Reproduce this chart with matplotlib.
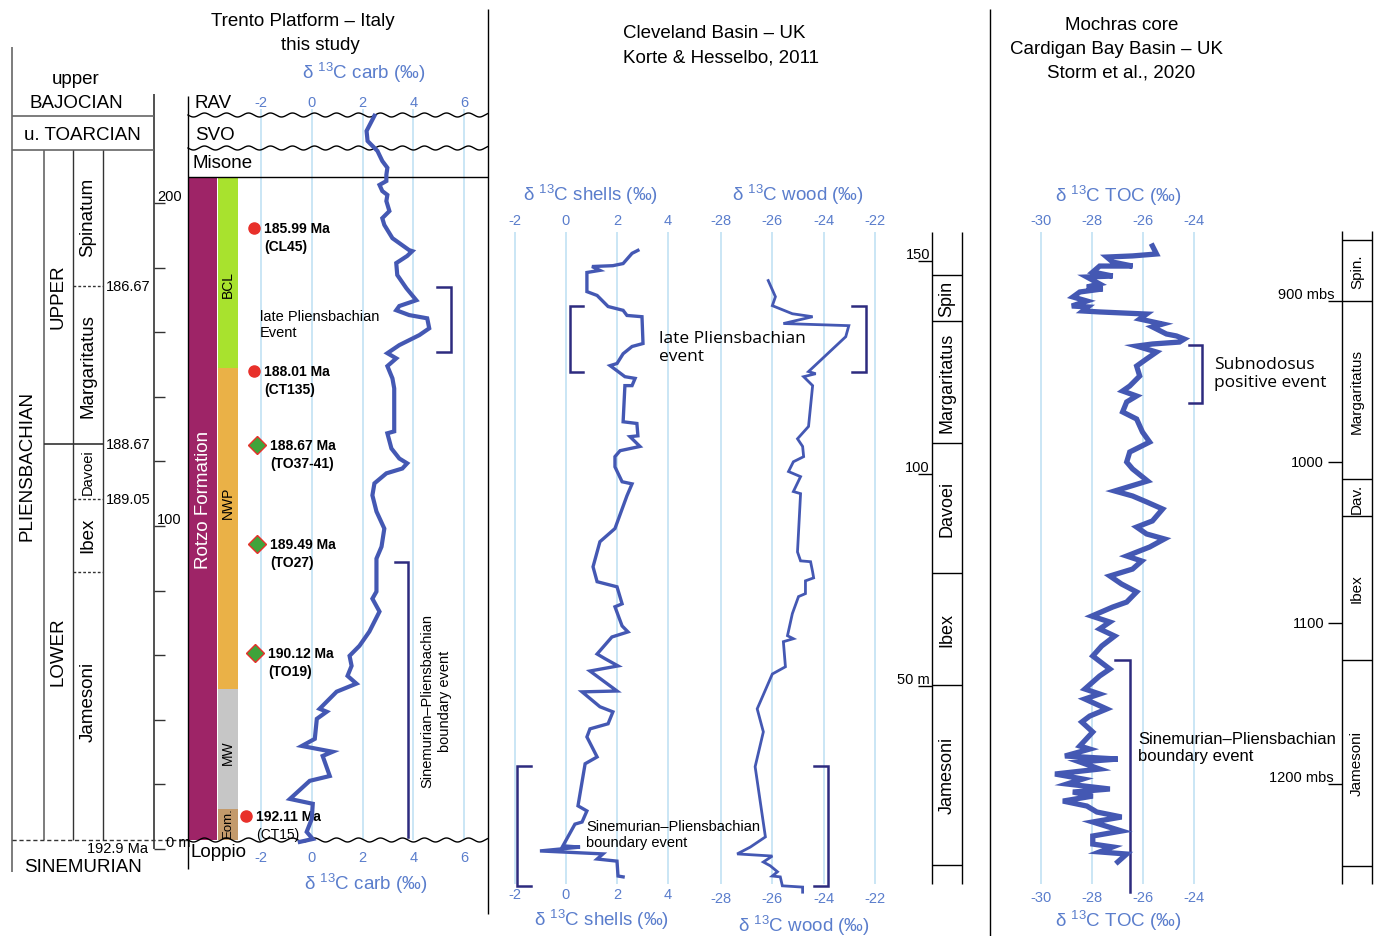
import numpy as np
import matplotlib.pyplot as plt
import matplotlib.transforms as mtransforms
from matplotlib.patches import Rectangle

plt.rcParams['font.family'] = ['Liberation Sans', 'DejaVu Sans']
plt.rcParams['mathtext.default'] = 'regular'

# ---- data ----
# Trento Platform, d13C carb (permil) vs thickness (m)
carb_d13c = [2.47, 2.16, 2.20, 2.59, 2.78, 2.98, 2.94, 2.94, 2.67, 2.78, 2.98, 2.94,
             3.06, 2.78, 2.86, 3.18, 3.84, 3.96, 3.76, 3.33, 3.37, 3.73, 4.12, 3.45,
             3.33, 3.84, 4.55, 4.63, 4.24, 3.45, 2.98, 3.33, 2.98, 3.18, 3.25, 3.25,
             2.98, 3.14, 3.45, 3.76, 3.57, 2.94, 2.47, 2.39, 2.55, 2.86, 2.75, 2.55,
             2.55, 2.39, 2.67, 2.27, 1.88, 1.49, 1.57, 1.41, 1.76, 0.98, 0.31, 0.59,
             0.20, 0.12, -0.39, 0.82, 0.43, 0.71, -0.08, -0.86, 0.04, 0.00, -0.20,
             0.04, -0.47]
carb_m = [227.0, 222.3, 219.2, 216.1, 213.0, 210.9, 208.7, 206.8, 205.6, 203.7, 202.5,
          200.6, 197.5, 195.3, 193.2, 189.1, 185.4, 185.1, 183.6, 181.4, 177.7, 173.6,
          169.9, 168.1, 166.8, 165.3, 164.3, 161.2, 159.1, 156.0, 153.5, 151.9, 149.5,
          145.7, 142.6, 129.3, 128.7, 124.0, 120.9, 119.4, 117.8, 116.3, 113.2, 109.5,
          104.5, 99.2, 93.6, 89.9, 79.7, 77.5, 73.5, 67.3, 62.9, 59.8, 56.7, 53.6, 51.2,
          48.7, 43.4, 42.5, 40.3, 34.1, 31.9, 30.1, 28.8, 22.6, 21.1, 15.5, 14.0, 9.3,
          5.3, 3.1, 2.2]

# Cleveland Basin, shells and wood (Korte & Hesselbo 2011)
shell_d13c = [2.82, 2.59, 2.24, 1.84, 1.02, 1.33, 0.82, 0.82, 1.22, 1.65, 2.24, 2.39,
              2.98, 3.02, 2.59, 2.24, 2.00, 1.73, 2.00, 2.31, 2.71, 2.59, 2.31, 2.24,
              2.78, 2.82, 2.51, 2.90, 2.12, 1.92, 1.92, 2.20, 2.59, 2.39, 1.92, 1.33,
              1.06, 1.22, 2.00, 2.20, 1.92, 2.20, 2.43, 1.80, 1.22, 1.53, 2.04, 0.94,
              2.00, 0.63, 1.33, 1.84, 1.65, 0.94, 0.82, 1.22, 0.75, 0.47, 0.82, 0.63,
              0.35, -0.12, 0.55, -1.02, 1.45, 1.22, 2.00, 2.04, 2.24]
shell_m = [152.5, 151.8, 149.4, 148.9, 148.7, 147.8, 147.3, 142.8, 141.9, 139.3, 138.4,
           137.2, 136.9, 130.6, 129.9, 128.2, 125.9, 125.4, 124.2, 122.8, 122.4, 120.7,
           120.7, 112.2, 111.8, 108.9, 108.7, 106.4, 105.4, 104.0, 101.6, 98.1, 97.6,
           94.8, 87.1, 84.0, 78.1, 74.6, 73.4, 69.4, 68.7, 64.2, 62.8, 61.6, 57.6, 56.5,
           54.8, 53.6, 48.9, 48.7, 45.2, 44.0, 41.2, 40.0, 38.1, 33.4, 31.8, 21.9, 20.7,
           18.1, 17.6, 12.5, 12.2, 11.3, 10.6, 9.4, 8.9, 5.4, 5.2]
wood_d13c = [-26.16, -25.88, -26.00, -25.22, -24.43, -25.57, -23.02, -23.14, -24.59,
             -24.31, -24.78, -24.43, -24.59, -25.02, -24.82, -24.78, -25.18, -25.37,
             -24.90, -25.18, -24.90, -25.02, -24.90, -24.51, -24.43, -24.39, -24.71,
             -24.71, -24.98, -25.22, -25.41, -25.18, -25.57, -25.49, -26.00, -26.59,
             -26.35, -26.67, -26.27, -26.86, -27.37, -26.00, -26.35, -26.08, -25.80,
             -26.00, -25.69, -25.61, -24.82, -24.82]
wood_m = [145.4, 141.6, 139.5, 137.6, 136.9, 135.3, 134.8, 132.2, 124.0, 123.5, 122.8,
          120.7, 111.1, 108.2, 106.4, 104.0, 102.8, 100.5, 99.3, 95.8, 95.3, 81.6, 79.5,
          79.3, 76.9, 75.5, 74.8, 71.8, 71.1, 67.1, 61.9, 61.2, 60.5, 54.6, 52.9, 44.7,
          39.3, 31.1, 14.6, 12.2, 10.6, 10.1, 8.7, 7.8, 6.4, 5.4, 5.2, 3.1, 2.8, 1.6]

# Mochras core, d13C TOC vs metres below surface (Storm et al. 2020)
toc_d13c = [-25.63, -25.47, -26.41, -27.42, -27.19, -26.41, -27.70, -27.97, -27.19,
            -28.20, -27.70, -28.20, -27.58, -28.48, -28.75, -28.20, -28.79, -28.16,
            -28.36, -27.70, -25.86, -26.13, -25.23, -25.63, -25.08, -24.69, -24.38,
            -24.57, -25.63, -26.25, -25.47, -25.86, -26.25, -26.13, -26.52, -26.80,
            -26.25, -26.64, -26.80, -26.25, -26.02, -25.74, -26.13, -26.52, -26.64,
            -26.41, -25.82, -27.11, -26.41, -25.86, -25.23, -25.63, -26.25, -25.86,
            -25.16, -25.74, -26.64, -26.05, -26.41, -27.30, -26.84, -26.25, -26.64,
            -27.19, -28.01, -27.30, -27.70, -27.11, -27.62, -27.97, -27.30, -27.70,
            -28.28, -27.70, -28.28, -27.42, -28.09, -28.40, -27.97, -28.48, -28.09,
            -29.06, -26.99, -28.48, -27.70, -29.45, -28.36, -28.98, -27.30, -28.75,
            -27.97, -29.14, -28.20, -27.81, -26.84, -27.97, -26.84, -27.97, -27.97,
            -27.19, -27.70, -26.64, -26.99]
toc_mbs = [865.8, 870.8, 872.0, 872.7, 875.8, 878.3, 878.3, 882.0, 884.5, 885.1, 889.4,
           891.3, 892.5, 894.4, 897.5, 900.0, 903.1, 903.7, 906.2, 906.8, 908.1, 911.2,
           914.3, 916.1, 920.5, 921.7, 923.6, 925.5, 926.7, 928.0, 931.7, 936.0, 940.4,
           946.6, 952.8, 955.9, 959.0, 962.7, 968.9, 973.3, 981.4, 987.6, 990.7, 993.8,
           1000.0, 1004.3, 1011.8, 1018.0, 1021.1, 1024.8, 1029.2, 1036.6, 1040.4,
           1044.7, 1047.8, 1052.8, 1058.4, 1061.5, 1066.5, 1070.8, 1075.8, 1080.7,
           1087.0, 1090.1, 1095.7, 1099.4, 1103.7, 1108.1, 1114.3, 1120.5, 1128.6,
           1132.9, 1141.0, 1144.1, 1147.2, 1153.4, 1157.8, 1161.5, 1167.7, 1176.4,
           1178.3, 1182.6, 1184.5, 1186.3, 1190.7, 1193.8, 1196.9, 1200.0, 1203.1,
           1205.0, 1207.5, 1210.6, 1213.7, 1217.4, 1220.5, 1223.6, 1229.2, 1232.3,
           1237.3, 1239.1, 1242.2, 1243.5, 1248.4]

# dated samples in the Trento section (m)
sample_age = ['185.99 Ma', '188.01 Ma', '188.67 Ma', '189.49 Ma', '190.12 Ma', '192.11 Ma']
sample_id = ['(CL45)', '(CT135)', '(TO37-41)', '(TO27)', '(TO19)', '(CT15)']
sample_m = [192.3, 148.0, 125.1, 94.4, 60.7, 10.2]
sample_kind = ['circle', 'circle', 'diamond', 'diamond', 'diamond', 'circle']

# Trento lithostratigraphic units (top, base in m)
unit_names = ['BCL', 'NWP', 'MW', 'Eom.']
unit_top = [208.0, 148.9, 49.5, 12.4]
unit_base = [148.9, 49.5, 12.4, 2.8]
unit_colors = ['#a8e22e', '#eab147', '#c6c6c6', '#c39a6b']

# Cleveland ammonite zones (m) and Mochras zones (mbs)
cle_bounds = [156.9, 146.6, 135.8, 107.3, 76.7, 50.4, 8.0, 3.5]
cle_zones = ['', 'Spin', 'Margaritatus', 'Davoei', 'Ibex', 'Jamesoni', '']
moc_bounds = [856.5, 862.1, 900.0, 1010.6, 1033.5, 1123.0, 1250.9, 1262.1]
moc_zones = ['', 'Spin.', 'Margaritatus', 'Dav.', 'Ibex', 'Jamesoni', '']

BLUE_TXT = '#5a7dcc'
CURVE = '#4458b3'
GRID = '#c6e4f4'
NAVY = '#2d2b7f'

W, H = 1380, 937
fig = plt.figure(figsize=(W / 100, H / 100), dpi=100)
bg = fig.add_axes([0, 0, 1, 1])
bg.set_xlim(0, W)
bg.set_ylim(H, 0)
bg.axis('off')


def data_axes(box, xmap, ymap):
    # box in pixels (left, top, right, bottom); maps = two (pixel, value) pairs
    l, t, r, b = box
    ax = fig.add_axes([l / W, 1 - b / H, (r - l) / W, (b - t) / H])
    (xa, va), (xb, vb) = xmap
    sx = (vb - va) / (xb - xa)
    ax.set_xlim(va + (l - xa) * sx, va + (r - xa) * sx)
    (ya, wa), (yb, wb) = ymap
    sy = (wb - wa) / (yb - ya)
    ax.set_ylim(wa + (b - ya) * sy, wa + (t - ya) * sy)
    ax.axis('off')
    ax.patch.set_alpha(0)
    return ax


def xblend(ax):
    return mtransforms.blended_transform_factory(ax.transData, bg.transData)


def yblend(ax):
    return mtransforms.blended_transform_factory(bg.transData, ax.transData)


def wavy(y, x0, x1):
    xs = np.linspace(x0, x1, 600)
    bg.plot(xs, y + 2.0 * np.sin(2 * np.pi * (xs - x0) / 22.0), color='black', lw=1)


def value_axis(ax, ticks, y_top, y_bot, grid_top, grid_bot, label, lab_top, lab_bot):
    tr = xblend(ax)
    bg.vlines(ticks, grid_top, grid_bot, transform=tr, colors=GRID, lw=1.3, zorder=0)
    for t in ticks:
        bg.text(t, y_top, f'{t}', transform=tr, ha='center', va='center',
                color=BLUE_TXT, fontsize=10.5)
        bg.text(t, y_bot, f'{t}', transform=tr, ha='center', va='center',
                color=BLUE_TXT, fontsize=10.5)
    for (xc, yc) in (lab_top, lab_bot):
        bg.text(xc, yc, label, ha='center', va='center', color=BLUE_TXT, fontsize=13.5)


def bracket(xs, ys):
    bg.plot(xs, ys, color=NAVY, lw=1.8, solid_joinstyle='miter')


# ---- separators and titles ----
bg.vlines(488, 10, 915, color='black', lw=1)
bg.vlines(990, 10, 937, color='black', lw=1)
bg.text(303, 22, 'Trento Platform – Italy', ha='center', va='center', fontsize=13.5)
bg.text(320, 46, 'this study', ha='center', va='center', fontsize=13.5)
bg.text(714, 34, 'Cleveland Basin – UK', ha='center', va='center', fontsize=13.5)
bg.text(721, 58, 'Korte & Hesselbo, 2011', ha='center', va='center', fontsize=13.5)
bg.text(1122, 25, 'Mochras core', ha='center', va='center', fontsize=13.5)
bg.text(1117, 49, 'Cardigan Bay Basin – UK', ha='center', va='center', fontsize=13.5)
bg.text(1121, 73, 'Storm et al., 2020', ha='center', va='center', fontsize=13.5)

# ---- chronostratigraphic column (left) ----
LC = '#666666'
bg.vlines(12, 48, 873, color=LC, lw=1.2)
bg.vlines(154, 95, 850, color='#333333', lw=1.2)
bg.hlines([117, 151], 12, 154, color=LC, lw=1.2)
bg.vlines(44, 151, 841, color=LC, lw=1.2)
bg.vlines([73, 103], 151, 841, color='#333333', lw=1)
bg.hlines(445, 44, 103, color='#333333', lw=1.2)
bg.hlines([287, 500, 573], 73, 103, color='#333333', lw=1, linestyles=(0, (2, 1.5)))
bg.hlines(841, 12, 188, color='#333333', lw=1, linestyles=(0, (3, 2)))
bg.text(76, 79, 'upper', ha='center', va='center', fontsize=13.5)
bg.text(76, 103, 'BAJOCIAN', ha='center', va='center', fontsize=13.5)
bg.text(82, 135, 'u. TOARCIAN', ha='center', va='center', fontsize=13.5)
bg.text(27, 466, 'PLIENSBACHIAN', rotation=90, ha='center', va='center', fontsize=13.5)
bg.text(58, 297, 'UPPER', rotation=90, ha='center', va='center', fontsize=13.5)
bg.text(58, 652, 'LOWER', rotation=90, ha='center', va='center', fontsize=13.5)
bg.text(88, 217, 'Spinatum', rotation=90, ha='center', va='center', fontsize=13.5)
bg.text(88, 366, 'Margaritatus', rotation=90, ha='center', va='center', fontsize=13.5)
bg.text(88, 472, 'Davoei', rotation=90, ha='center', va='center', fontsize=10.5)
bg.text(88, 535, 'Ibex', rotation=90, ha='center', va='center', fontsize=13.5)
bg.text(88, 702, 'Jamesoni', rotation=90, ha='center', va='center', fontsize=13.5)
for yb, lab in [(287, '186.67'), (445, '188.67'), (500, '189.05')]:
    bg.text(106, yb, lab, ha='left', va='center', fontsize=10.5)
bg.text(148, 849, '192.9 Ma', ha='right', va='center', fontsize=10.5)
bg.text(83, 868, 'SINEMURIAN', ha='center', va='center', fontsize=13.5)

# ---- Trento panel ----
ax_tr = data_axes((154, 90, 488, 870), ((261, -2), (464, 6)), ((850, 0), (204, 200)))
ty = yblend(ax_tr)
bg.hlines(np.arange(0, 201, 20), 154, 165, transform=ty, color='#333333', lw=1)
for d, lab in [(200, '200'), (100, '100'), (0, '0 m')]:
    bg.text(157 if d else 166, d, lab, transform=ty, ha='left', va='bottom', fontsize=10.5)

bg.vlines(188, 97, 870, color='black', lw=1)
wavy(116, 188, 488)
wavy(149, 188, 488)
wavy(841, 188, 488)
bg.hlines(178, 188, 488, color='black', lw=1)
bg.text(195, 103, 'RAV', ha='left', va='center', fontsize=13.5)
bg.text(195, 135, 'SVO', ha='left', va='center', fontsize=13.5)
bg.text(193, 164, 'Misone', ha='left', va='center', fontsize=13.5)
bg.text(190, 853, 'Loppio', ha='left', va='center', fontsize=13.5)

bg.add_patch(Rectangle((188, unit_base[-1]), 29, unit_top[0] - unit_base[-1],
                       transform=ty, color='#9e2467', lw=0))
for top, base, col in zip(unit_top, unit_base, unit_colors):
    bg.add_patch(Rectangle((218, base), 20, top - base, transform=ty, color=col, lw=0))
bg.text(203, 500, 'Rotzo Formation', rotation=90, ha='center', va='center',
        color='white', fontsize=13.5)
for name, yc, fs in zip(unit_names, [285, 503, 753, 823], [10, 10, 10, 9.5]):
    bg.text(228, yc, name, rotation=90, ha='center', va='center', fontsize=fs)

value_axis(ax_tr, [-2, 0, 2, 4, 6], 103, 858, 110, 841, 'δ $^{13}$C carb (‰)',
           (364, 73), (366, 884))
ax_tr.plot(carb_d13c, carb_m, color=CURVE, lw=3.0, clip_on=False, solid_joinstyle='miter')

# sample ID sits one line (18 px) under the age
id_shift = mtransforms.ScaledTranslation(0, -0.18, fig.dpi_scale_trans)
for age, sid, d, kind, xm in zip(sample_age, sample_id, sample_m, sample_kind,
                                 [254, 254, 257, 257, 255, 246]):
    if kind == 'circle':
        bg.plot(xm, d, 'o', transform=ty, ms=8, color='#e8302a', mec='#e8302a')
        dx = 10
    else:
        bg.plot(xm, d, 'D', transform=ty, ms=9, color='#3fa33a', mec='#e8302a', mew=1)
        dx = 13
    bg.text(xm + dx, d, age, transform=ty, ha='left', va='center', fontsize=10,
            fontweight='bold')
    bg.text(xm + dx, d, sid, transform=ty + id_shift, ha='left', va='center', fontsize=10,
            fontweight='bold' if sid != '(CT15)' else 'normal')

bg.text(260, 325, 'late Pliensbachian\nEvent', ha='left', va='center', fontsize=10.5,
        linespacing=1.25)
bracket([437, 451, 451, 437], [288, 288, 353, 353])
bracket([395, 408, 408], [563, 563, 838])
bg.text(436, 701, 'Sinemurian–Pliensbachian\nboundary event', rotation=90, ha='center',
        va='center', fontsize=10.5, linespacing=1.3)

# ---- Cleveland panel ----
cle_y = ((900, 0), (262, 150))
ax_sh = data_axes((500, 230, 700, 895), ((515, -2), (668, 4)), cle_y)
ax_wd = data_axes((700, 230, 900, 895), ((721, -28), (875, -22)), cle_y)
value_axis(ax_sh, [-2, 0, 2, 4], 221, 895, 233, 885, 'δ $^{13}$C shells (‰)',
           (590, 195), (601, 920))
value_axis(ax_wd, [-28, -26, -24, -22], 221, 899, 233, 885, 'δ $^{13}$C wood (‰)',
           (798, 195), (804, 926))
ax_sh.plot(shell_d13c, shell_m, color=CURVE, lw=2.4, clip_on=False, solid_joinstyle='miter')
ax_wd.plot(wood_d13c, wood_m, color=CURVE, lw=2.0, clip_on=False, solid_joinstyle='miter')

bracket([583, 570, 570, 583], [307, 307, 373, 373])
bracket([852, 866, 866, 852], [307, 307, 373, 373])
bg.text(659, 348, 'late Pliensbachian\nevent', ha='left', va='center', fontsize=12.5,
        family=['Open Sans', 'DejaVu Sans'], linespacing=1.1)
bracket([531, 517, 517, 531], [767, 767, 887, 887])
bracket([814, 828, 828, 814], [767, 767, 887, 887])
bg.text(586, 835, 'Sinemurian–Pliensbachian\nboundary event', ha='left', va='center',
        fontsize=10.5, linespacing=1.25)

cy = yblend(ax_sh)
bg.vlines([932, 962], cle_bounds[-1], cle_bounds[0], transform=cy, color='black', lw=1)
bg.hlines(cle_bounds[1:-1], 932, 962, transform=cy, color='black', lw=1)
for name, top, base in zip(cle_zones, cle_bounds[:-1], cle_bounds[1:]):
    if name:
        bg.text(947, (top + base) / 2, name, transform=cy, rotation=90, ha='center',
                va='center', fontsize=13)
bg.hlines([150, 100, 50], 918, 932, transform=cy, color='black', lw=1)
for d, lab in [(150, '150'), (100, '100'), (50, '50 m')]:
    bg.text(930, d, lab, transform=cy, ha='right', va='bottom', fontsize=10.5)

# ---- Mochras panel ----
ax_toc = data_axes((1000, 230, 1330, 895), ((1041, -30), (1194, -24)),
                   ((302, 900), (785, 1200)))
value_axis(ax_toc, [-30, -28, -26, -24], 221, 898, 233, 885, 'δ $^{13}$C TOC (‰)',
           (1118, 196), (1118, 921))
ax_toc.plot(toc_d13c, toc_mbs, color=CURVE, lw=3.8, clip_on=False, solid_joinstyle='miter')

bracket([1189, 1202, 1202, 1189], [346, 346, 404, 404])
bg.text(1214, 374, 'Subnodosus\npositive event', ha='left', va='center', fontsize=12.5,
        family=['Open Sans', 'DejaVu Sans'], linespacing=1.1)
bracket([1115, 1130, 1130], [661, 661, 893])
bg.text(1138, 748, 'Sinemurian–Pliensbachian\nboundary event', ha='left', va='center',
        fontsize=12, linespacing=1.15)

my = yblend(ax_toc)
bg.vlines([1342, 1372], moc_bounds[0], moc_bounds[-1], transform=my, color='black', lw=1)
bg.hlines(moc_bounds[1:-1], 1342, 1372, transform=my, color='black', lw=1)
for name, top, base in zip(moc_zones, moc_bounds[:-1], moc_bounds[1:]):
    if name:
        bg.text(1357, (top + base) / 2, name, transform=my, rotation=90, ha='center',
                va='center', fontsize=11)
bg.hlines([900, 1000, 1100, 1200], 1328, 1342, transform=my, color='black', lw=1)
bg.text(1334, 900, '900 mbs', transform=my, ha='right', va='bottom', fontsize=10.5)
bg.text(1324, 1000, '1000', transform=my, ha='right', va='center', fontsize=10.5)
bg.text(1324, 1100, '1100', transform=my, ha='right', va='center', fontsize=10.5)
bg.text(1334, 1200, '1200 mbs', transform=my, ha='right', va='bottom', fontsize=10.5)

fig.savefig('out.png', dpi=100)
